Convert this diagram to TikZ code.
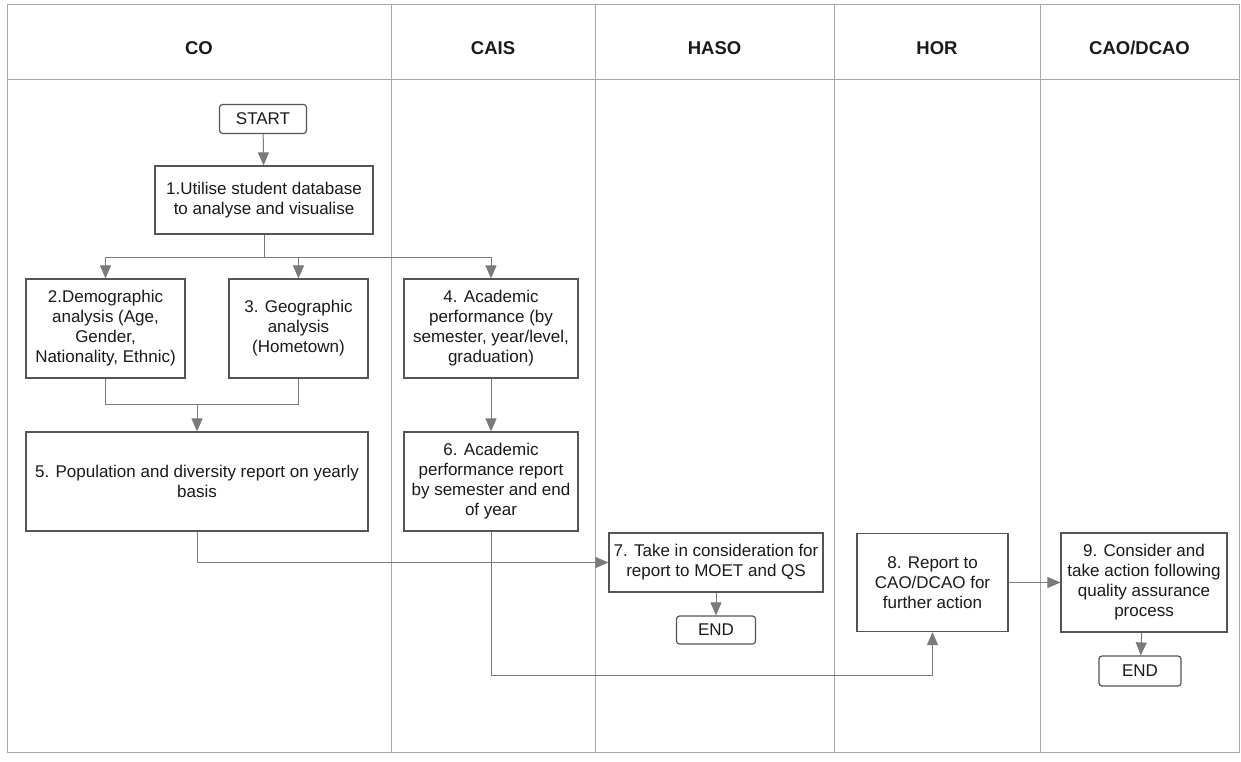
\documentclass[tikz,border=0pt]{standalone}
\usepackage{fontspec}
\setmainfont{Liberation Sans}
\usetikzlibrary{arrows.meta}
\definecolor{lanecol}{HTML}{A8A8A8}
\definecolor{linecol}{HTML}{7A7A7A}
\definecolor{boxcol}{HTML}{555555}
\definecolor{txtcol}{HTML}{1A1A1A}
\begin{document}
\begin{tikzpicture}[x=1pt,y=-1pt,
  lane/.style={draw=lanecol,line width=1pt},
  hdr/.style={font=\fontsize{18.5}{22}\selectfont\bfseries,text=txtcol,inner sep=0pt},
  proc/.style={draw=boxcol,line width=1.2pt,fill=white,align=center,inner sep=0pt,
               font=\fontsize{17}{20}\selectfont,text=txtcol},
  term/.style={proc,rounded corners=3pt},
  conn/.style={draw=linecol,line width=1pt},
  arr/.style={conn,-{Triangle[width=11pt,length=13pt,fill=linecol]}}
]
\useasboundingbox (0,0) rectangle (1241,762);
% swimlane frame
\draw[lane] (7,5) rectangle (1239,752);
\draw[lane] (7,80) -- (1239,80);
\foreach \x in {391,595,834,1040}{\draw[lane] (\x,5) -- (\x,752);}
% headers
\node[hdr] (hco)   at (199,48)    {CO};
\node[hdr] (hcais) at (493,48)    {CAIS};
\node[hdr] (hhaso) at (714.5,48)  {HASO};
\node[hdr] (hhor)  at (937,48)    {HOR};
\node[hdr] (hcao)  at (1139.5,48) {CAO/DCAO};
% nodes
\node[term,minimum width=87pt,minimum height=29pt] (start) at (263,119) {START};
\node[proc,minimum width=218pt,minimum height=68pt] (n1) at (264,200)
  {1.Utilise student database\\to analyse and visualise};
\node[proc,minimum width=159pt,minimum height=99pt] (n2) at (105.5,328.5)
  {2.Demographic\\analysis (Age,\\Gender,\\Nationality, Ethnic)};
\node[proc,minimum width=139pt,minimum height=99pt] (n3) at (298.5,328.5)
  {3. Geographic\\analysis\\(Hometown)};
\node[proc,minimum width=174pt,minimum height=99pt] (n4) at (491,328.5)
  {4. Academic\\performance (by\\semester, year/level,\\graduation)};
\node[proc,minimum width=342pt,minimum height=99pt] (n5) at (197,481.5)
  {5. Population and diversity report on yearly\\basis};
\node[proc,minimum width=174pt,minimum height=99pt] (n6) at (491,481.5)
  {6. Academic\\performance report\\by semester and end\\of year};
\node[proc,minimum width=214pt,minimum height=59pt] (n7) at (716,562.5)
  {7. Take in consideration for\\report to MOET and QS};
\node[proc,minimum width=151pt,minimum height=98pt] (n8) at (932.5,582.5)
  {8. Report to\\CAO/DCAO for\\further action};
\node[proc,minimum width=166pt,minimum height=99pt] (n9) at (1144,582.5)
  {9. Consider and\\take action following\\quality assurance\\process};
\node[term,minimum width=79pt,minimum height=28pt] (end1) at (716,630) {END};
\node[term,minimum width=82pt,minimum height=30pt] (end2) at (1140,671) {END};
% connectors
\draw[arr] (start) -- (n1);
\coordinate (b1) at (264,257);
\draw[conn] (n1) -- (b1);
\draw[arr] (b1) -| (n2);
\draw[arr] (b1) -| (n3);
\draw[arr] (b1) -| (n4);
\coordinate (j1) at (197,404);
\draw[conn] (n2) |- (j1);
\draw[conn] (n3) |- (j1);
\draw[arr] (j1) -- (n5);
\draw[arr] (n4) -- (n6);
\draw[arr] (n5) |- (n7);
\coordinate (c6) at (491,675);
\draw[arr] (n6) -- (c6) -| (n8);
\draw[arr] (n7) -- (end1);
\draw[arr] (n8) -- (n9);
\draw[arr] (n9) -- (end2);
\end{tikzpicture}
\end{document}
